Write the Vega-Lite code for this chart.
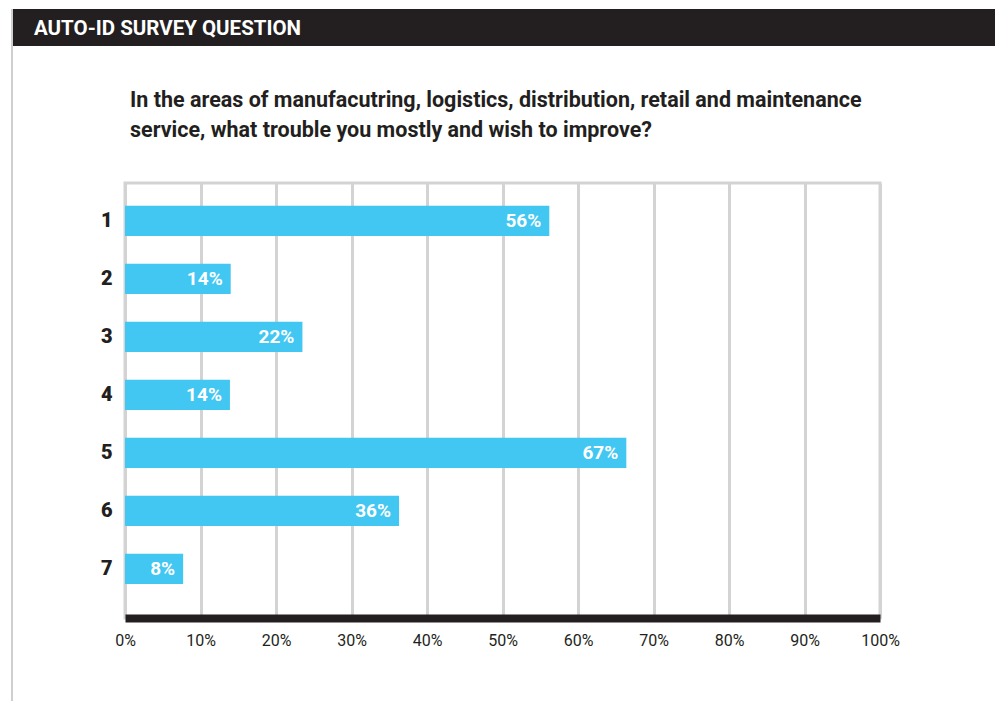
{
  "$schema": "https://vega.github.io/schema/vega-lite/v6.json",
  "background": "white",
  "padding": {"left": 11, "top": 9, "right": 0, "bottom": 0},
  "spacing": 0,
  "config": {
    "font": "Liberation Sans Narrow, Roboto, sans-serif"
  },
  "hconcat": [
    {
      "width": 2,
      "height": 692,
      "view": {"fill": "#cfcfcf", "stroke": null},
      "data": {"values": [{"t": ""}]},
      "mark": {"type": "text"},
      "encoding": {"text": {"field": "t"}}
    },
    {
      "spacing": 42,
      "vconcat": [
        {
          "width": 982,
          "height": 37,
          "view": {"fill": "#231f20", "stroke": null},
          "data": {"values": [{"t": "AUTO-ID SURVEY QUESTION"}]},
          "mark": {"type": "text", "align": "left", "baseline": "middle", "color": "white", "fontSize": 20.5, "fontWeight": "bold", "dx": 21, "dy": 1},
          "encoding": {
            "x": {"datum": 0, "type": "quantitative", "scale": {"domain": [0, 1]}, "axis": null},
            "text": {"field": "t"}
          }
        },
        {
          "spacing": 0,
          "hconcat": [
            {
              "width": 1,
              "height": 1,
              "view": {"stroke": null},
              "data": {"values": [{"t": ""}]},
              "mark": {"type": "text"},
              "encoding": {"text": {"field": "t"}}
            },
            {
              "width": 755,
              "height": 435,
              "view": {"stroke": "#d3d3d3", "strokeWidth": 3},
              "title": {
                "text": ["In the areas of manufacutring, logistics, distribution, retail and maintenance", "service, what trouble you mostly and wish to improve?"],
                "anchor": "start",
                "frame": "group",
                "dx": 5,
                "offset": 42,
                "fontSize": 21.5,
                "fontWeight": "bold",
                "color": "#231f20",
                "lineHeight": 30
              },
              "data": {
                "values": [
                  {"item": "1", "value": 56.2, "label": "56%"},
                  {"item": "2", "value": 14.0, "label": "14%"},
                  {"item": "3", "value": 23.5, "label": "22%"},
                  {"item": "4", "value": 13.9, "label": "14%"},
                  {"item": "5", "value": 66.4, "label": "67%"},
                  {"item": "6", "value": 36.3, "label": "36%"},
                  {"item": "7", "value": 7.7, "label": "8%"}
                ]
              },
              "encoding": {
                "y": {
                  "field": "item",
                  "type": "ordinal",
                  "sort": null,
                  "scale": {"paddingInner": 0.48, "paddingOuter": 0.49, "align": 0.4},
                  "axis": {
                    "title": null,
                    "domain": false,
                    "ticks": false,
                    "labelPadding": 13,
                    "labelFontSize": 20,
                    "labelFontWeight": 900,
                    "labelColor": "#231f20",
                    "minExtent": 109
                  }
                },
                "x": {
                  "field": "value",
                  "type": "quantitative",
                  "scale": {"domain": [0, 100], "nice": false},
                  "axis": {
                    "title": null,
                    "values": [0, 10, 20, 30, 40, 50, 60, 70, 80, 90, 100],
                    "labelExpr": "datum.value + '%'",
                    "grid": true,
                    "gridColor": "#d3d3d3",
                    "gridWidth": 3,
                    "domain": true,
                    "domainColor": "#231f20",
                    "domainWidth": 8,
                    "ticks": false,
                    "labelPadding": 14,
                    "labelFontSize": 16,
                    "labelColor": "#231f20",
                    "labelFlush": false
                  }
                }
              },
              "layer": [
                {
                  "mark": {"type": "bar", "color": "#41c7f2"}
                },
                {
                  "mark": {"type": "text", "align": "right", "baseline": "middle", "dx": -8, "color": "white", "fontSize": 19, "fontWeight": "bold"},
                  "encoding": {"text": {"field": "label"}}
                }
              ]
            }
          ]
        }
      ]
    }
  ]
}
